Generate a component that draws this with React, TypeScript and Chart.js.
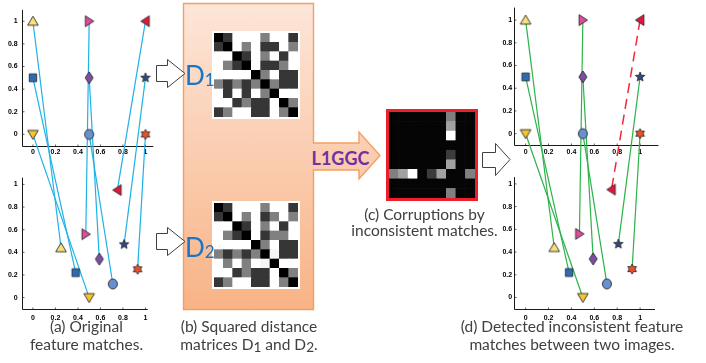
import React, { useEffect, useRef } from 'react';
import { Chart, registerables } from 'chart.js';

Chart.register(...registerables);

// ---------------- data ----------------
const MARKER_SHAPES = ['triUp', 'triRight', 'triLeft', 'square', 'diamond', 'pentagram', 'triDown', 'circle', 'hexagram'];
const MARKER_COLORS = ['#f8e07a', '#e04a9c', '#e3173e', '#2b6cb6', '#7d4ea2', '#2c4a8e', '#f4c531', '#6890d0', '#e8512b'];
const TOP_X = [0, 0.5, 1, 0, 0.5, 1, 0, 0.5, 1];
const TOP_Y = [1, 1, 1, 0.5, 0.5, 0.5, 0, 0, 0];
const BOTTOM_X = [0.25, 0.47, 0.75, 0.38, 0.59, 0.81, 0.5, 0.71, 0.93];
const BOTTOM_Y = [0.44, 0.56, 0.95, 0.22, 0.34, 0.47, 0, 0.12, 0.25];
const IS_INCONSISTENT = [false, false, true, false, false, false, false, false, false];
const AXIS_TICKS = [0, 0.2, 0.4, 0.6, 0.8, 1];

// distance levels (0 = black, 1 = white)
const K = 0, D = 0.21, G = 0.5, W = 1, L = 0.96;
const MATRIX_D1 = [
  [K, D, W, W, W, G, W, W, D],
  [D, K, W, G, W, D, D, W, G],
  [W, W, K, D, W, G, W, D, W],
  [W, G, D, K, W, D, D, G, W],
  [W, W, W, W, K, G, W, D, D],
  [G, D, G, D, G, K, G, D, D],
  [W, D, W, D, W, G, K, W, W],
  [W, W, D, G, D, D, W, K, G],
  [D, G, W, W, D, D, W, G, K],
];
const MATRIX_D2 = [
  [K, D, W, W, W, G, W, W, D],
  [D, K, W, G, W, D, G, W, G],
  [W, W, K, D, W, G, W, D, W],
  [W, G, D, K, W, D, G, G, W],
  [W, W, W, W, K, G, W, D, D],
  [G, D, G, D, G, K, L, D, D],
  [W, G, W, G, W, L, K, W, W],
  [W, W, D, G, D, D, W, K, G],
  [D, G, W, W, D, D, W, G, K],
];
const Z = 0.02;
const MATRIX_CORRUPTION = [
  [Z, Z, Z, Z, Z, Z, 0.5, Z, Z],
  [Z, Z, Z, Z, Z, Z, 0.63, Z, Z],
  [Z, Z, Z, Z, Z, Z, 1, Z, Z],
  [Z, Z, Z, Z, Z, Z, Z, Z, Z],
  [Z, Z, Z, Z, Z, Z, 0.23, Z, Z],
  [Z, Z, Z, Z, Z, Z, 0.63, Z, Z],
  [0.5, 0.63, 1, Z, 0.23, 0.63, Z, Z, 0.5],
  [Z, Z, Z, Z, Z, Z, Z, Z, Z],
  [Z, Z, Z, Z, Z, Z, 0.5, Z, Z],
];

// ---------------- helpers ----------------
const TOP_OFFSET = 1.442; // vertical shift of the upper sub-plot in the shared y scale
const Y_MIN = -0.12;
const Y_MAX = 2.557;

const fmt = (v: number) => String(Math.round(v * 10) / 10);

function gray(v: number) {
  const c = Math.round(v * 255);
  return `rgb(${c},${c},${c})`;
}

function makeMarker(shape: string, color: string): HTMLCanvasElement {
  const s = 18;
  const cv = document.createElement('canvas');
  cv.width = s;
  cv.height = s;
  const g = cv.getContext('2d')!;
  g.translate(s / 2, s / 2);
  g.beginPath();
  const poly = (pts: number[][]) => {
    pts.forEach(([x, y], i) => (i ? g.lineTo(x, y) : g.moveTo(x, y)));
    g.closePath();
  };
  const star = (n: number, ro: number, ri: number) => {
    const pts: number[][] = [];
    for (let i = 0; i < 2 * n; i++) {
      const a = -Math.PI / 2 + (i * Math.PI) / n;
      const r = i % 2 === 0 ? ro : ri;
      pts.push([Math.cos(a) * r, Math.sin(a) * r]);
    }
    poly(pts);
  };
  switch (shape) {
    case 'triUp': poly([[0, -5], [5.3, 4], [-5.3, 4]]); break;
    case 'triDown': poly([[0, 5], [5.3, -4], [-5.3, -4]]); break;
    case 'triRight': poly([[4.6, 0], [-3.8, -5.4], [-3.8, 5.4]]); break;
    case 'triLeft': poly([[-4.6, 0], [3.8, -5.4], [3.8, 5.4]]); break;
    case 'square': g.rect(-3.7, -3.9, 7.4, 7.8); break;
    case 'diamond': poly([[0, -6], [4, 0], [0, 6], [-4, 0]]); break;
    case 'circle': g.ellipse(0, 0, 4.5, 5, 0, 0, Math.PI * 2); break;
    case 'pentagram': star(5, 5, 2.1); break;
    case 'hexagram': star(6, 5, 2.9); break;
  }
  g.fillStyle = color;
  g.fill();
  g.lineWidth = 0.9;
  g.strokeStyle = '#2a2a2a';
  g.stroke();
  return cv;
}

const subplotAxes = {
  id: 'subplotAxes',
  beforeDatasetsDraw(chart: any, _args: any, opts: any) {
    const { ctx } = chart;
    const x = chart.scales.x;
    const y = chart.scales.y;
    ctx.save();
    ctx.strokeStyle = '#1a1a1a';
    ctx.lineWidth = 1;
    const boxes = opts.boxes || [];
    for (let i = 0; i < boxes.length; i++) {
      const b = boxes[i];
      const px = Math.round(x.getPixelForValue(-0.1)) + 0.5;
      const py = Math.round(y.getPixelForValue(b.offset - 0.1)) + 0.5;
      const yTop = y.getPixelForValue(b.offset + b.yEnd);
      const xEnd = x.getPixelForValue(b.xEnd);
      ctx.beginPath();
      ctx.moveTo(px, yTop);
      ctx.lineTo(px, py);
      ctx.lineTo(xEnd, py);
      ctx.stroke();
      ctx.beginPath();
      ctx.lineWidth = 0.7;
      for (const t of AXIS_TICKS) {
        const tx = x.getPixelForValue(t);
        ctx.moveTo(tx, py);
        ctx.lineTo(tx, py - 2);
        const ty = y.getPixelForValue(t + b.offset);
        ctx.moveTo(px, ty);
        ctx.lineTo(px + 2, ty);
      }
      ctx.stroke();
      ctx.lineWidth = 1;
    }
    ctx.restore();
  },
};

type PanelProps = {
  left: number;
  width: number;
  height: number;
  areaLeft: number;
  padRight: number;
  xAxisHeight: number;
  lineColor: string;
  badColor?: string;
  tickPad: number;
  boxes: { offset: number; xEnd: number; yEnd: number }[];
};

function MatchPanel(p: PanelProps) {
  const ref = useRef<HTMLCanvasElement>(null);
  useEffect(() => {
    const markers = MARKER_SHAPES.map((s, i) => makeMarker(s, MARKER_COLORS[i]));
    const tickFont = { family: 'Liberation Sans', size: 7, weight: 'bold' as const };
    const noGrid = { display: false, drawTicks: false, tickLength: 0 };
    const lineSets = TOP_X.map((tx, i) => {
      const bad = IS_INCONSISTENT[i] && p.badColor;
      return {
        data: [
          { x: tx, y: TOP_Y[i] + TOP_OFFSET },
          { x: BOTTOM_X[i], y: BOTTOM_Y[i] },
        ],
        showLine: true,
        pointRadius: 0,
        borderColor: bad ? p.badColor : p.lineColor,
        borderWidth: bad ? 1.5 : 1.2,
        borderDash: bad ? [10, 6] : [],
        clip: false as const,
      };
    });
    const chart = new Chart(ref.current!, {
      type: 'scatter',
      data: {
        datasets: [
          {
            data: TOP_X.map((x, i) => ({ x, y: TOP_Y[i] + TOP_OFFSET })),
            pointStyle: markers,
            pointRadius: 6,
            clip: false,
          } as any,
          {
            data: BOTTOM_X.map((x, i) => ({ x, y: BOTTOM_Y[i] })),
            pointStyle: markers,
            pointRadius: 6,
            clip: false,
          } as any,
          ...lineSets,
        ],
      },
      options: {
        animation: false,
        responsive: false,
        events: [],
        layout: { padding: { left: 0, right: p.padRight, top: 2, bottom: 0 } },
        plugins: {
          legend: { display: false },
          tooltip: { enabled: false },
          subplotAxes: { boxes: p.boxes },
        } as any,
        scales: {
          x: {
            type: 'linear',
            min: -0.1,
            max: 1.2,
            grid: noGrid,
            border: { display: false },
            afterBuildTicks: (s: any) => { s.ticks = AXIS_TICKS.map((value) => ({ value })); },
            afterFit: (s: any) => { s.height = p.xAxisHeight; },
            ticks: { font: tickFont, color: '#000', padding: 2.5, maxRotation: 0, autoSkip: false, callback: (v: any) => fmt(Number(v)) },
          },
          xt: {
            type: 'linear',
            axis: 'x',
            position: { y: TOP_OFFSET - 0.1 },
            min: -0.1,
            max: 1.2,
            grid: noGrid,
            border: { display: false },
            afterBuildTicks: (s: any) => { s.ticks = AXIS_TICKS.map((value) => ({ value })); },
            ticks: { font: tickFont, color: '#000', padding: 2.5, maxRotation: 0, autoSkip: false, callback: (v: any) => fmt(Number(v)) },
          },
          y: {
            type: 'linear',
            min: Y_MIN,
            max: Y_MAX,
            grid: noGrid,
            border: { display: false },
            afterBuildTicks: (s: any) => {
              s.ticks = [...AXIS_TICKS, ...AXIS_TICKS.map((v) => v + TOP_OFFSET)].map((value) => ({ value }));
            },
            afterFit: (s: any) => { s.width = p.areaLeft; },
            ticks: {
              font: tickFont,
              color: '#000',
              padding: p.tickPad,
              autoSkip: false,
              callback: (v: any) => fmt(Number(v) > 1.2 ? Number(v) - TOP_OFFSET : Number(v)),
            },
          },
        } as any,
      },
      plugins: [subplotAxes],
    });
    return () => chart.destroy();
  }, []);
  return (
    <canvas
      ref={ref}
      width={p.width}
      height={p.height}
      style={{ position: 'absolute', left: p.left, top: 0, width: p.width, height: p.height }}
    />
  );
}

function Heatmap({ matrix, left, top, size }: { matrix: number[][]; left: number; top: number; size: number }) {
  const ref = useRef<HTMLCanvasElement>(null);
  useEffect(() => {
    const n = matrix.length;
    const labels = matrix[0].map((_, c) => String(c));
    const datasets = matrix
      .map((row) => ({
        data: row.map(() => 1),
        backgroundColor: row.map((v) => gray(v)),
        borderWidth: 0,
        barPercentage: 1,
        categoryPercentage: 1,
        stack: 'cells',
      }))
      .reverse();
    const chart = new Chart(ref.current!, {
      type: 'bar',
      data: { labels, datasets },
      options: {
        animation: false,
        responsive: false,
        events: [],
        layout: { padding: 0 },
        plugins: { legend: { display: false }, tooltip: { enabled: false } },
        scales: {
          x: { stacked: true, display: false },
          y: { stacked: true, display: false, min: 0, max: n },
        },
      },
    });
    return () => chart.destroy();
  }, []);
  return (
    <canvas
      ref={ref}
      width={size}
      height={size}
      style={{ position: 'absolute', left, top, width: size, height: size }}
    />
  );
}

const CAPTION_STYLE: React.CSSProperties = {
  position: 'absolute',
  width: 240,
  textAlign: 'center',
  fontFamily: 'Lato, "Open Sans", sans-serif',
  fontSize: 15.5,
  lineHeight: '18px',
  color: '#404040',
  whiteSpace: 'nowrap',
};

function Caption({ cx, top, children, lh }: { cx: number; top: number; children: React.ReactNode; lh?: number }) {
  return (
    <div style={{ ...CAPTION_STYLE, left: cx - 120, top, lineHeight: `${lh || 18}px` }}>{children}</div>
  );
}

const SUB: React.CSSProperties = { fontSize: '0.88em', verticalAlign: '-2px' };

export default function App() {
  return (
    <div style={{ position: 'absolute', left: 0, top: 0, width: 706, height: 363, background: '#fff', overflow: 'hidden' }}>
      <svg width={706} height={363} style={{ position: 'absolute', left: 0, top: 0 }}>
        <defs>
          <linearGradient id="boxGrad" x1="0" y1="3" x2="0" y2="310" gradientUnits="userSpaceOnUse">
            <stop offset="0" stopColor="#fde6d9" />
            <stop offset="1" stopColor="#f8b386" />
          </linearGradient>
        </defs>
        <path
          d="M183.5,3.5 H313.5 V143 H359 V132 L380,155.5 L359,179 V170 H313.5 V309.5 H183.5 Z"
          fill="url(#boxGrad)"
          stroke="#f59e64"
          strokeWidth={1.4}
        />
        <path d="M156.5,65.5 H167.5 V59.5 L185,73.5 L167.5,87.5 V81.5 H156.5 Z" fill="#fff" stroke="#404040" strokeWidth={1} />
        <path d="M156.5,233.5 H167.5 V227.5 L185,241.5 L167.5,255.5 V249.5 H156.5 Z" fill="#fff" stroke="#404040" strokeWidth={1} />
        <path d="M482.5,152.5 H495.5 V143.5 L510,159.5 L495.5,175.5 V167.5 H482.5 Z" fill="#fff" stroke="#404040" strokeWidth={1} />
      </svg>

      <MatchPanel
        left={0}
        width={175}
        height={325}
        areaLeft={21.63}
        padRight={2.96}
        xAxisHeight={13.84}
        lineColor="#1eb2e6"
        tickPad={4}
        boxes={[
          { offset: TOP_OFFSET, xEnd: 1.07, yEnd: 1.1 },
          { offset: 0, xEnd: 1.02, yEnd: 1.06 },
        ]}
      />
      <MatchPanel
        left={490}
        width={180}
        height={325}
        areaLeft={24.17}
        padRight={5.94}
        xAxisHeight={13.84}
        lineColor="#2cb34a"
        badColor="#f2293c"
        tickPad={2}
        boxes={[
          { offset: TOP_OFFSET, xEnd: 1.16, yEnd: 1.11 },
          { offset: 0, xEnd: 1.13, yEnd: 1.06 },
        ]}
      />

      <div style={{ position: 'absolute', left: 212, top: 31, width: 88, height: 88, background: '#fff' }} />
      <Heatmap matrix={MATRIX_D1} left={214} top={33} size={84} />
      <div style={{ position: 'absolute', left: 212, top: 201, width: 88, height: 88, background: '#fff' }} />
      <Heatmap matrix={MATRIX_D2} left={214} top={203} size={84} />
      <div style={{ position: 'absolute', left: 386, top: 109, width: 86, height: 86, border: '3px solid #ee1f2b' }} />
      <Heatmap matrix={MATRIX_CORRUPTION} left={389} top={112} size={86} />

      <div style={{ position: 'absolute', left: 185, top: 62, fontFamily: 'Lato, sans-serif', fontSize: 26, lineHeight: '26px', color: '#1a75c4' }}>
        D<span style={{ fontSize: 17, verticalAlign: '-1px' }}>1</span>
      </div>
      <div style={{ position: 'absolute', left: 185, top: 234, fontFamily: 'Lato, sans-serif', fontSize: 26, lineHeight: '26px', color: '#1a75c4' }}>
        D<span style={{ fontSize: 17, verticalAlign: '-1px' }}>2</span>
      </div>
      <div style={{ position: 'absolute', left: 300, top: 149, width: 81, textAlign: 'center', fontFamily: 'Lato, sans-serif', fontWeight: 700, fontSize: 18, lineHeight: '18px', color: '#7030a0' }}>
        L1GGC
      </div>

      <Caption cx={86.5} top={317}>(a) Original<br />feature matches.</Caption>
      <Caption cx={249} top={317}>(b) Squared distance<br />matrices D<span style={SUB}>1</span> and D<span style={SUB}>2</span>.</Caption>
      <Caption cx={424.5} top={206} lh={16}>(c) Corruptions by<br />inconsistent matches.</Caption>
      <Caption cx={572} top={317}>(d) Detected inconsistent feature<br />matches between two images.</Caption>
    </div>
  );
}
